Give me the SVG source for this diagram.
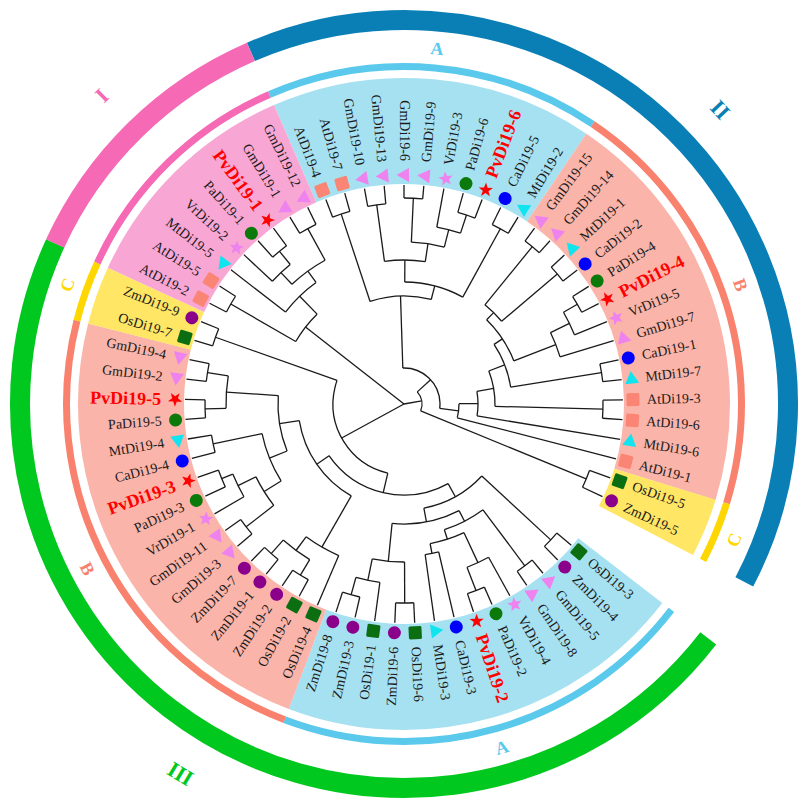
<svg xmlns="http://www.w3.org/2000/svg" xmlns:xlink="http://www.w3.org/1999/xlink" width="809" height="809" viewBox="0 0 809 809">
<style>
.t{font-family:"Liberation Serif","Times New Roman",serif;font-size:14px;fill:#1a1a1a;dominant-baseline:central}
.e{text-anchor:end}
.pv{font-size:18px;font-weight:bold;fill:#ff0000}
.br line,.br circle{fill:none;stroke:#1a1a1a;stroke-width:1.3}
.ring circle{fill:none}
.lab{font-family:"Liberation Serif","Times New Roman",serif;font-weight:bold;text-anchor:middle;dominant-baseline:central}
</style>
<defs>
<circle id="zm" r="6.5" fill="#8b008b"/>
<circle id="pa" r="6.5" fill="#0b7a0b"/>
<circle id="ca" r="6.5" fill="#0000ff"/>
<rect id="os" x="-6.5" y="-6.5" width="13" height="13" rx="1.5" fill="#0b6e11"/>
<rect id="at" x="-6.5" y="-6.5" width="13" height="13" rx="1.5" fill="#fa8574"/>
<path id="gm" d="M0,-7.5 L7,5 L-7,5 Z" fill="#ee82ee"/>
<path id="mt" d="M0,-7.5 L7,5 L-7,5 Z" fill="#10e4ee"/>
<path id="vr" d="M0,-7.5 L1.9,-2.6 L7.13,-2.32 L3.1,1 L4.41,6.07 L0,3.3 L-4.41,6.07 L-3.1,1 L-7.13,-2.32 L-1.9,-2.6 Z" fill="#ee82ee"/>
<path id="pv" d="M0,-7.5 L1.76,-2.43 L7.13,-2.32 L2.85,0.93 L4.41,6.07 L0,3 L-4.41,6.07 L-2.85,0.93 L-7.13,-2.32 L-1.76,-2.43 Z" fill="#ff0000"/>
</defs>
<rect width="809" height="809" fill="#ffffff"/>
<g id="rings" class="ring" transform="translate(404,404)">
<g id="sectors" stroke-width="106">
<circle r="273" pathLength="360" stroke="#a6e1f2" stroke-dasharray="57.5 360" transform="rotate(246.5)"/>
<circle r="273" pathLength="360" stroke="#a6e1f2" stroke-dasharray="73.1 360" transform="rotate(37.6)"/>
<circle r="273" pathLength="360" stroke="#fbb4a9" stroke-dasharray="73.1 360" transform="rotate(304)"/>
<circle r="273" pathLength="360" stroke="#fbb4a9" stroke-dasharray="83.6 360" transform="rotate(110.7)"/>
<circle r="273" pathLength="360" stroke="#ffe665" stroke-dasharray="10.5 360" transform="rotate(377.1)"/>
<circle r="273" pathLength="360" stroke="#ffe665" stroke-dasharray="10.4 360" transform="rotate(194.3)"/>
<circle r="273" pathLength="360" stroke="#f8a7d5" stroke-dasharray="41.8 360" transform="rotate(204.7)"/>
</g>
<g id="subfamily-rings" stroke-width="7">
<circle r="337.5" pathLength="360" stroke="#5bc9ec" stroke-dasharray="57.5 360" transform="rotate(246.5)"/>
<circle r="337.5" pathLength="360" stroke="#5bc9ec" stroke-dasharray="73.1 360" transform="rotate(37.6)"/>
<circle r="337.5" pathLength="360" stroke="#f9826f" stroke-dasharray="73.1 360" transform="rotate(304)"/>
<circle r="337.5" pathLength="360" stroke="#f9826f" stroke-dasharray="83.6 360" transform="rotate(110.7)"/>
<circle r="337.5" pathLength="360" stroke="#ffd700" stroke-dasharray="10.5 360" transform="rotate(377.1)"/>
<circle r="337.5" pathLength="360" stroke="#ffd700" stroke-dasharray="10.4 360" transform="rotate(194.3)"/>
<circle r="337.5" pathLength="360" stroke="#f569b5" stroke-dasharray="41.8 360" transform="rotate(204.7)"/>
</g>
<g id="group-rings" stroke-width="20">
<circle r="384" pathLength="360" stroke="#0a7fb5" stroke-dasharray="141.1 360" transform="rotate(246.5)"/>
<circle r="384" pathLength="360" stroke="#00c81e" stroke-dasharray="167.1 360" transform="rotate(37.6)"/>
<circle r="384" pathLength="360" stroke="#f569b5" stroke-dasharray="41.8 360" transform="rotate(204.7)"/>
</g>
<g id="ring-labels">
<text class="lab" font-size="18" fill="#5bc9ec" transform="rotate(275.3) translate(357,0) rotate(90)">A</text>
<text class="lab" font-size="18" fill="#5bc9ec" transform="rotate(74.1) translate(357,0) rotate(-90)">A</text>
<text class="lab" font-size="18" fill="#f9826f" transform="rotate(340.5) translate(357,0) rotate(90)">B</text>
<text class="lab" font-size="18" fill="#f9826f" transform="rotate(152.5) translate(357,0) rotate(-90)">B</text>
<text class="lab" font-size="18" fill="#ffd700" transform="rotate(22.4) translate(357,0) rotate(-90)">C</text>
<text class="lab" font-size="18" fill="#ffd700" transform="rotate(199.5) translate(357,0) rotate(90)">C</text>
<text class="lab" font-size="22" fill="#f569b5" transform="rotate(225.6) translate(432,0) rotate(90)">I</text>
<text class="lab" font-size="22" fill="#0a7fb5" transform="rotate(317.05) translate(432,0) rotate(90)">II</text>
<text class="lab" font-size="22" fill="#00c81e" transform="rotate(121.15) translate(432,0) rotate(-90)">III</text>
</g>
</g>
<g id="connectors" class="br" transform="translate(404,404)">
<circle r="200" pathLength="360" stroke-dasharray="5.2 360" transform="rotate(40.2)"/>
<circle r="202" pathLength="360" stroke-dasharray="5.3 360" transform="rotate(50.6)"/>
<circle r="200" pathLength="360" stroke-dasharray="5.2 360" transform="rotate(66.3)"/>
<circle r="175" pathLength="360" stroke-dasharray="7.8 360" transform="rotate(61.1)"/>
<circle r="152" pathLength="360" stroke-dasharray="5.2 360" transform="rotate(76.8)"/>
<circle r="142" pathLength="360" stroke-dasharray="14.4 360" transform="rotate(65)"/>
<circle r="132" pathLength="360" stroke-dasharray="18.95 360" transform="rotate(53.25)"/>
<circle r="199" pathLength="360" stroke-dasharray="5.2 360" transform="rotate(87.2)"/>
<circle r="198" pathLength="360" stroke-dasharray="5.2 360" transform="rotate(102.9)"/>
<circle r="180" pathLength="360" stroke-dasharray="7.8 360" transform="rotate(97.7)"/>
<circle r="158" pathLength="360" stroke-dasharray="11.8 360" transform="rotate(89.8)"/>
<circle r="120" pathLength="360" stroke-dasharray="33 360" transform="rotate(62.7)"/>
<circle r="106" pathLength="360" stroke-dasharray="36.4 360" transform="rotate(42.8)"/>
<circle r="200" pathLength="360" stroke-dasharray="5.2 360" transform="rotate(118.6)"/>
<circle r="200" pathLength="360" stroke-dasharray="5.2 360" transform="rotate(129)"/>
<circle r="182" pathLength="360" stroke-dasharray="10.4 360" transform="rotate(121.2)"/>
<circle r="165" pathLength="360" stroke-dasharray="13.1 360" transform="rotate(113.3)"/>
<circle r="200" pathLength="360" stroke-dasharray="5.2 360" transform="rotate(139.5)"/>
<circle r="197" pathLength="360" stroke-dasharray="5.3 360" transform="rotate(155.1)"/>
<circle r="185" pathLength="360" stroke-dasharray="7.85 360" transform="rotate(149.9)"/>
<circle r="165" pathLength="360" stroke-dasharray="11.7 360" transform="rotate(142.1)"/>
<circle r="195" pathLength="360" stroke-dasharray="5.2 360" transform="rotate(165.6)"/>
<circle r="145" pathLength="360" stroke-dasharray="20.25 360" transform="rotate(147.95)"/>
<circle r="199" pathLength="360" stroke-dasharray="5.2 360" transform="rotate(176)"/>
<circle r="199" pathLength="360" stroke-dasharray="5.2 360" transform="rotate(186.5)"/>
<circle r="178" pathLength="360" stroke-dasharray="10.5 360" transform="rotate(178.6)"/>
<circle r="126" pathLength="360" stroke-dasharray="25.75 360" transform="rotate(158.1)"/>
<circle r="106" pathLength="360" stroke-dasharray="51.15 360" transform="rotate(119.85)"/>
<circle r="91" pathLength="360" stroke-dasharray="84.4 360" transform="rotate(61)"/>
<circle r="200" pathLength="360" stroke-dasharray="5.2 360" transform="rotate(196.9)"/>
<circle r="71" pathLength="360" stroke-dasharray="96.3 360" transform="rotate(103.2)"/>
<circle r="200" pathLength="360" stroke-dasharray="5.2 360" transform="rotate(207.4)"/>
<circle r="197" pathLength="360" stroke-dasharray="5.2 360" transform="rotate(228.2)"/>
<circle r="180" pathLength="360" stroke-dasharray="7.8 360" transform="rotate(223)"/>
<circle r="200" pathLength="360" stroke-dasharray="5.3 360" transform="rotate(238.6)"/>
<circle r="164" pathLength="360" stroke-dasharray="14.35 360" transform="rotate(226.9)"/>
<circle r="150" pathLength="360" stroke-dasharray="16.3 360" transform="rotate(217.8)"/>
<circle r="125" pathLength="360" stroke-dasharray="15.95 360" transform="rotate(210)"/>
<circle r="200" pathLength="360" stroke-dasharray="5.2 360" transform="rotate(249.1)"/>
<circle r="201" pathLength="360" stroke-dasharray="5.2 360" transform="rotate(259.6)"/>
<circle r="206" pathLength="360" stroke-dasharray="5.2 360" transform="rotate(270)"/>
<circle r="199" pathLength="360" stroke-dasharray="5.2 360" transform="rotate(285.7)"/>
<circle r="180" pathLength="360" stroke-dasharray="7.8 360" transform="rotate(280.5)"/>
<circle r="162" pathLength="360" stroke-dasharray="11.8 360" transform="rotate(272.6)"/>
<circle r="144" pathLength="360" stroke-dasharray="16.3 360" transform="rotate(262.2)"/>
<circle r="200" pathLength="360" stroke-dasharray="5.2 360" transform="rotate(296.2)"/>
<circle r="122" pathLength="360" stroke-dasharray="28.45 360" transform="rotate(270.35)"/>
<circle r="108" pathLength="360" stroke-dasharray="32.9 360" transform="rotate(251.7)"/>
<circle r="203" pathLength="360" stroke-dasharray="5.2 360" transform="rotate(306.6)"/>
<circle r="201" pathLength="360" stroke-dasharray="5.2 360" transform="rotate(317.1)"/>
<circle r="128" pathLength="360" stroke-dasharray="10.5 360" transform="rotate(309.2)"/>
<circle r="200" pathLength="360" stroke-dasharray="5.2 360" transform="rotate(327.5)"/>
<circle r="184" pathLength="360" stroke-dasharray="7.8 360" transform="rotate(330.1)"/>
<circle r="163" pathLength="360" stroke-dasharray="9.2 360" transform="rotate(334)"/>
<circle r="118" pathLength="360" stroke-dasharray="24.15 360" transform="rotate(314.45)"/>
<circle r="200" pathLength="360" stroke-dasharray="5.2 360" transform="rotate(348.4)"/>
<circle r="108" pathLength="360" stroke-dasharray="24.5 360" transform="rotate(326.5)"/>
<circle r="199" pathLength="360" stroke-dasharray="5.2 360" transform="rotate(358.9)"/>
<circle r="91" pathLength="360" stroke-dasharray="22.75 360" transform="rotate(338.75)"/>
<circle r="74" pathLength="360" stroke-dasharray="19.2 360" transform="rotate(350.1)"/>
<circle r="55" pathLength="360" stroke-dasharray="14.8 360" transform="rotate(359.7)"/>
<circle r="36" pathLength="360" stroke-dasharray="98.95 360" transform="rotate(268.15)"/>
<circle r="197" pathLength="360" stroke-dasharray="5.3 360" transform="rotate(379.7)"/>
<circle r="18" pathLength="360" stroke-dasharray="64.75 360" transform="rotate(317.6)"/>
<line x1="200" x2="219" transform="rotate(40.2)"/>
<line x1="200" x2="219" transform="rotate(45.4)"/>
<line x1="202" x2="219" transform="rotate(50.6)"/>
<line x1="202" x2="219" transform="rotate(55.9)"/>
<line x1="175" x2="219" transform="rotate(61.1)"/>
<line x1="200" x2="219" transform="rotate(66.3)"/>
<line x1="200" x2="219" transform="rotate(71.5)"/>
<line x1="152" x2="219" transform="rotate(76.8)"/>
<line x1="152" x2="219" transform="rotate(82)"/>
<line x1="199" x2="219" transform="rotate(87.2)"/>
<line x1="199" x2="219" transform="rotate(92.4)"/>
<line x1="180" x2="219" transform="rotate(97.7)"/>
<line x1="198" x2="219" transform="rotate(102.9)"/>
<line x1="198" x2="219" transform="rotate(108.1)"/>
<line x1="165" x2="219" transform="rotate(113.3)"/>
<line x1="200" x2="219" transform="rotate(118.6)"/>
<line x1="200" x2="219" transform="rotate(123.8)"/>
<line x1="200" x2="219" transform="rotate(129)"/>
<line x1="200" x2="219" transform="rotate(134.2)"/>
<line x1="200" x2="219" transform="rotate(139.5)"/>
<line x1="200" x2="219" transform="rotate(144.7)"/>
<line x1="185" x2="219" transform="rotate(149.9)"/>
<line x1="197" x2="219" transform="rotate(155.1)"/>
<line x1="197" x2="219" transform="rotate(160.4)"/>
<line x1="195" x2="219" transform="rotate(165.6)"/>
<line x1="195" x2="219" transform="rotate(170.8)"/>
<line x1="199" x2="219" transform="rotate(176)"/>
<line x1="199" x2="219" transform="rotate(181.2)"/>
<line x1="199" x2="219" transform="rotate(186.5)"/>
<line x1="199" x2="219" transform="rotate(191.7)"/>
<line x1="200" x2="219" transform="rotate(196.9)"/>
<line x1="200" x2="219" transform="rotate(202.1)"/>
<line x1="200" x2="219" transform="rotate(207.4)"/>
<line x1="200" x2="219" transform="rotate(212.6)"/>
<line x1="150" x2="219" transform="rotate(217.8)"/>
<line x1="180" x2="219" transform="rotate(223)"/>
<line x1="197" x2="219" transform="rotate(228.2)"/>
<line x1="197" x2="219" transform="rotate(233.4)"/>
<line x1="200" x2="219" transform="rotate(238.6)"/>
<line x1="200" x2="219" transform="rotate(243.9)"/>
<line x1="200" x2="219" transform="rotate(249.1)"/>
<line x1="200" x2="219" transform="rotate(254.3)"/>
<line x1="201" x2="219" transform="rotate(259.6)"/>
<line x1="201" x2="219" transform="rotate(264.8)"/>
<line x1="206" x2="219" transform="rotate(270)"/>
<line x1="206" x2="219" transform="rotate(275.2)"/>
<line x1="180" x2="219" transform="rotate(280.5)"/>
<line x1="199" x2="219" transform="rotate(285.7)"/>
<line x1="199" x2="219" transform="rotate(290.9)"/>
<line x1="200" x2="219" transform="rotate(296.2)"/>
<line x1="200" x2="219" transform="rotate(301.4)"/>
<line x1="203" x2="219" transform="rotate(306.6)"/>
<line x1="203" x2="219" transform="rotate(311.8)"/>
<line x1="201" x2="219" transform="rotate(317.1)"/>
<line x1="201" x2="219" transform="rotate(322.3)"/>
<line x1="200" x2="219" transform="rotate(327.5)"/>
<line x1="200" x2="219" transform="rotate(332.7)"/>
<line x1="184" x2="219" transform="rotate(337.9)"/>
<line x1="163" x2="219" transform="rotate(343.2)"/>
<line x1="200" x2="219" transform="rotate(348.4)"/>
<line x1="200" x2="219" transform="rotate(353.6)"/>
<line x1="199" x2="219" transform="rotate(358.9)"/>
<line x1="199" x2="219" transform="rotate(364.1)"/>
<line x1="74" x2="219" transform="rotate(369.3)"/>
<line x1="55" x2="219" transform="rotate(374.5)"/>
<line x1="197" x2="219" transform="rotate(379.7)"/>
<line x1="197" x2="219" transform="rotate(385)"/>
<line x1="106" x2="200" transform="rotate(42.8)"/>
<line x1="132" x2="202" transform="rotate(53.25)"/>
<line x1="175" x2="200" transform="rotate(68.9)"/>
<line x1="142" x2="175" transform="rotate(65)"/>
<line x1="142" x2="152" transform="rotate(79.4)"/>
<line x1="132" x2="142" transform="rotate(72.2)"/>
<line x1="120" x2="132" transform="rotate(62.7)"/>
<line x1="158" x2="199" transform="rotate(89.8)"/>
<line x1="180" x2="198" transform="rotate(105.5)"/>
<line x1="158" x2="180" transform="rotate(101.6)"/>
<line x1="120" x2="158" transform="rotate(95.7)"/>
<line x1="106" x2="120" transform="rotate(79.2)"/>
<line x1="91" x2="106" transform="rotate(61)"/>
<line x1="182" x2="200" transform="rotate(121.2)"/>
<line x1="182" x2="200" transform="rotate(131.6)"/>
<line x1="165" x2="182" transform="rotate(126.4)"/>
<line x1="106" x2="165" transform="rotate(119.85)"/>
<line x1="165" x2="200" transform="rotate(142.1)"/>
<line x1="185" x2="197" transform="rotate(157.75)"/>
<line x1="165" x2="185" transform="rotate(153.8)"/>
<line x1="145" x2="165" transform="rotate(147.95)"/>
<line x1="145" x2="195" transform="rotate(168.2)"/>
<line x1="126" x2="145" transform="rotate(158.1)"/>
<line x1="178" x2="199" transform="rotate(178.6)"/>
<line x1="178" x2="199" transform="rotate(189.1)"/>
<line x1="126" x2="178" transform="rotate(183.85)"/>
<line x1="106" x2="126" transform="rotate(171)"/>
<line x1="91" x2="106" transform="rotate(145.4)"/>
<line x1="71" x2="91" transform="rotate(103.2)"/>
<line x1="71" x2="200" transform="rotate(199.5)"/>
<line x1="0" x2="71" transform="rotate(151.35)"/>
<line x1="125" x2="200" transform="rotate(210)"/>
<line x1="180" x2="197" transform="rotate(230.8)"/>
<line x1="164" x2="180" transform="rotate(226.9)"/>
<line x1="164" x2="200" transform="rotate(241.25)"/>
<line x1="150" x2="164" transform="rotate(234.1)"/>
<line x1="125" x2="150" transform="rotate(225.95)"/>
<line x1="0" x2="125" transform="rotate(218)"/>
<line x1="108" x2="200" transform="rotate(251.7)"/>
<line x1="144" x2="201" transform="rotate(262.2)"/>
<line x1="162" x2="206" transform="rotate(272.6)"/>
<line x1="180" x2="199" transform="rotate(288.3)"/>
<line x1="162" x2="180" transform="rotate(284.4)"/>
<line x1="144" x2="162" transform="rotate(278.5)"/>
<line x1="122" x2="144" transform="rotate(270.35)"/>
<line x1="122" x2="200" transform="rotate(298.8)"/>
<line x1="108" x2="122" transform="rotate(284.6)"/>
<line x1="36" x2="108" transform="rotate(268.15)"/>
<line x1="128" x2="203" transform="rotate(309.2)"/>
<line x1="128" x2="201" transform="rotate(319.7)"/>
<line x1="118" x2="128" transform="rotate(314.45)"/>
<line x1="184" x2="200" transform="rotate(330.1)"/>
<line x1="163" x2="184" transform="rotate(334)"/>
<line x1="118" x2="163" transform="rotate(338.6)"/>
<line x1="108" x2="118" transform="rotate(326.5)"/>
<line x1="108" x2="200" transform="rotate(351)"/>
<line x1="91" x2="108" transform="rotate(338.75)"/>
<line x1="91" x2="199" transform="rotate(361.5)"/>
<line x1="74" x2="91" transform="rotate(350.1)"/>
<line x1="55" x2="74" transform="rotate(359.7)"/>
<line x1="36" x2="55" transform="rotate(367.1)"/>
<line x1="18" x2="36" transform="rotate(317.6)"/>
<line x1="18" x2="197" transform="rotate(382.35)"/>
<line x1="0" x2="18" transform="rotate(350)"/>
</g>
<g id="leaves" transform="translate(404,404)">
<g id="n-OsDi19-3"><use href="#os" transform="rotate(40.2) translate(229,0)"/><text class="t" transform="rotate(40.2) translate(243,0)">OsDi19-3</text></g>
<g id="n-ZmDi19-4"><use href="#zm" transform="rotate(45.4) translate(229,0)"/><text class="t" transform="rotate(45.4) translate(243,0)">ZmDi19-4</text></g>
<g id="n-GmDi19-5"><use href="#gm" transform="rotate(50.6) translate(229,0)"/><text class="t" transform="rotate(50.6) translate(243,0)">GmDi19-5</text></g>
<g id="n-GmDi19-8"><use href="#gm" transform="rotate(55.9) translate(229,0)"/><text class="t" transform="rotate(55.9) translate(243,0)">GmDi19-8</text></g>
<g id="n-VrDi19-4"><use href="#vr" transform="rotate(61.1) translate(229,0)"/><text class="t" transform="rotate(61.1) translate(243,0)">VrDi19-4</text></g>
<g id="n-PaDi19-2"><use href="#pa" transform="rotate(66.3) translate(229,0)"/><text class="t" transform="rotate(66.3) translate(243,0)">PaDi19-2</text></g>
<g id="n-PvDi19-2"><use href="#pv" transform="rotate(71.5) translate(229,0)"/><text class="t pv" transform="rotate(71.5) translate(243,0)">PvDi19-2</text></g>
<g id="n-CaDi19-3"><use href="#ca" transform="rotate(76.8) translate(229,0)"/><text class="t" transform="rotate(76.8) translate(243,0)">CaDi19-3</text></g>
<g id="n-MtDi19-3"><use href="#mt" transform="rotate(82) translate(229,0)"/><text class="t" transform="rotate(82) translate(243,0)">MtDi19-3</text></g>
<g id="n-OsDi19-6"><use href="#os" transform="rotate(87.2) translate(229,0)"/><text class="t" transform="rotate(87.2) translate(243,0)">OsDi19-6</text></g>
<g id="n-ZmDi19-6"><use href="#zm" transform="rotate(92.4) translate(229,0)"/><text class="t e" transform="rotate(-87.6) translate(-243,0)">ZmDi19-6</text></g>
<g id="n-OsDi19-1"><use href="#os" transform="rotate(97.7) translate(229,0)"/><text class="t e" transform="rotate(-82.3) translate(-243,0)">OsDi19-1</text></g>
<g id="n-ZmDi19-3"><use href="#zm" transform="rotate(102.9) translate(229,0)"/><text class="t e" transform="rotate(-77.1) translate(-243,0)">ZmDi19-3</text></g>
<g id="n-ZmDi19-8"><use href="#zm" transform="rotate(108.1) translate(229,0)"/><text class="t e" transform="rotate(-71.9) translate(-243,0)">ZmDi19-8</text></g>
<g id="n-OsDi19-4"><use href="#os" transform="rotate(113.3) translate(229,0)"/><text class="t e" transform="rotate(-66.7) translate(-243,0)">OsDi19-4</text></g>
<g id="n-OsDi19-2"><use href="#os" transform="rotate(118.6) translate(229,0)"/><text class="t e" transform="rotate(-61.4) translate(-243,0)">OsDi19-2</text></g>
<g id="n-ZmDi19-2"><use href="#zm" transform="rotate(123.8) translate(229,0)"/><text class="t e" transform="rotate(-56.2) translate(-243,0)">ZmDi19-2</text></g>
<g id="n-ZmDi19-1"><use href="#zm" transform="rotate(129) translate(229,0)"/><text class="t e" transform="rotate(-51) translate(-243,0)">ZmDi19-1</text></g>
<g id="n-ZmDi19-7"><use href="#zm" transform="rotate(134.2) translate(229,0)"/><text class="t e" transform="rotate(-45.8) translate(-243,0)">ZmDi19-7</text></g>
<g id="n-GmDi19-3"><use href="#gm" transform="rotate(139.5) translate(229,0)"/><text class="t e" transform="rotate(-40.5) translate(-243,0)">GmDi19-3</text></g>
<g id="n-GmDi19-11"><use href="#gm" transform="rotate(144.7) translate(229,0)"/><text class="t e" transform="rotate(-35.3) translate(-243,0)">GmDi19-11</text></g>
<g id="n-VrDi19-1"><use href="#vr" transform="rotate(149.9) translate(229,0)"/><text class="t e" transform="rotate(-30.1) translate(-243,0)">VrDi19-1</text></g>
<g id="n-PaDi19-3"><use href="#pa" transform="rotate(155.1) translate(229,0)"/><text class="t e" transform="rotate(-24.9) translate(-243,0)">PaDi19-3</text></g>
<g id="n-PvDi19-3"><use href="#pv" transform="rotate(160.4) translate(229,0)"/><text class="t e pv" transform="rotate(-19.6) translate(-243,0)">PvDi19-3</text></g>
<g id="n-CaDi19-4"><use href="#ca" transform="rotate(165.6) translate(229,0)"/><text class="t e" transform="rotate(-14.4) translate(-243,0)">CaDi19-4</text></g>
<g id="n-MtDi19-4"><use href="#mt" transform="rotate(170.8) translate(229,0)"/><text class="t e" transform="rotate(-9.2) translate(-243,0)">MtDi19-4</text></g>
<g id="n-PaDi19-5"><use href="#pa" transform="rotate(176) translate(229,0)"/><text class="t e" transform="rotate(-4) translate(-243,0)">PaDi19-5</text></g>
<g id="n-PvDi19-5"><use href="#pv" transform="rotate(181.2) translate(229,0)"/><text class="t e pv" transform="rotate(1.2) translate(-243,0)">PvDi19-5</text></g>
<g id="n-GmDi19-2"><use href="#gm" transform="rotate(186.5) translate(229,0)"/><text class="t e" transform="rotate(6.5) translate(-243,0)">GmDi19-2</text></g>
<g id="n-GmDi19-4"><use href="#gm" transform="rotate(191.7) translate(229,0)"/><text class="t e" transform="rotate(11.7) translate(-243,0)">GmDi19-4</text></g>
<g id="n-OsDi19-7"><use href="#os" transform="rotate(196.9) translate(229,0)"/><text class="t e" transform="rotate(16.9) translate(-243,0)">OsDi19-7</text></g>
<g id="n-ZmDi19-9"><use href="#zm" transform="rotate(202.1) translate(229,0)"/><text class="t e" transform="rotate(22.1) translate(-243,0)">ZmDi19-9</text></g>
<g id="n-AtDi19-2"><use href="#at" transform="rotate(207.4) translate(229,0)"/><text class="t e" transform="rotate(27.4) translate(-243,0)">AtDi19-2</text></g>
<g id="n-AtDi19-5"><use href="#at" transform="rotate(212.6) translate(229,0)"/><text class="t e" transform="rotate(32.6) translate(-243,0)">AtDi19-5</text></g>
<g id="n-MtDi19-5"><use href="#mt" transform="rotate(217.8) translate(229,0)"/><text class="t e" transform="rotate(37.8) translate(-243,0)">MtDi19-5</text></g>
<g id="n-VrDi19-2"><use href="#vr" transform="rotate(223) translate(229,0)"/><text class="t e" transform="rotate(43) translate(-243,0)">VrDi19-2</text></g>
<g id="n-PaDi19-1"><use href="#pa" transform="rotate(228.2) translate(229,0)"/><text class="t e" transform="rotate(48.2) translate(-243,0)">PaDi19-1</text></g>
<g id="n-PvDi19-1"><use href="#pv" transform="rotate(233.4) translate(229,0)"/><text class="t e pv" transform="rotate(53.4) translate(-243,0)">PvDi19-1</text></g>
<g id="n-GmDi19-1"><use href="#gm" transform="rotate(238.6) translate(229,0)"/><text class="t e" transform="rotate(58.6) translate(-243,0)">GmDi19-1</text></g>
<g id="n-GmDi19-12"><use href="#gm" transform="rotate(243.9) translate(229,0)"/><text class="t e" transform="rotate(63.9) translate(-243,0)">GmDi19-12</text></g>
<g id="n-AtDi19-4"><use href="#at" transform="rotate(249.1) translate(229,0)"/><text class="t e" transform="rotate(69.1) translate(-243,0)">AtDi19-4</text></g>
<g id="n-AtDi19-7"><use href="#at" transform="rotate(254.3) translate(229,0)"/><text class="t e" transform="rotate(74.3) translate(-243,0)">AtDi19-7</text></g>
<g id="n-GmDi19-10"><use href="#gm" transform="rotate(259.6) translate(229,0)"/><text class="t e" transform="rotate(79.6) translate(-243,0)">GmDi19-10</text></g>
<g id="n-GmDi19-13"><use href="#gm" transform="rotate(264.8) translate(229,0)"/><text class="t e" transform="rotate(84.8) translate(-243,0)">GmDi19-13</text></g>
<g id="n-GmDi19-6"><use href="#gm" transform="rotate(270) translate(229,0)"/><text class="t e" transform="rotate(90) translate(-243,0)">GmDi19-6</text></g>
<g id="n-GmDi19-9"><use href="#gm" transform="rotate(275.2) translate(229,0)"/><text class="t" transform="rotate(275.2) translate(243,0)">GmDi19-9</text></g>
<g id="n-VrDi19-3"><use href="#vr" transform="rotate(280.5) translate(229,0)"/><text class="t" transform="rotate(280.5) translate(243,0)">VrDi19-3</text></g>
<g id="n-PaDi19-6"><use href="#pa" transform="rotate(285.7) translate(229,0)"/><text class="t" transform="rotate(285.7) translate(243,0)">PaDi19-6</text></g>
<g id="n-PvDi19-6"><use href="#pv" transform="rotate(290.9) translate(229,0)"/><text class="t pv" transform="rotate(290.9) translate(243,0)">PvDi19-6</text></g>
<g id="n-CaDi19-5"><use href="#ca" transform="rotate(296.2) translate(229,0)"/><text class="t" transform="rotate(296.2) translate(243,0)">CaDi19-5</text></g>
<g id="n-MtDi19-2"><use href="#mt" transform="rotate(301.4) translate(229,0)"/><text class="t" transform="rotate(301.4) translate(243,0)">MtDi19-2</text></g>
<g id="n-GmDi19-15"><use href="#gm" transform="rotate(306.6) translate(229,0)"/><text class="t" transform="rotate(306.6) translate(243,0)">GmDi19-15</text></g>
<g id="n-GmDi19-14"><use href="#gm" transform="rotate(311.8) translate(229,0)"/><text class="t" transform="rotate(311.8) translate(243,0)">GmDi19-14</text></g>
<g id="n-MtDi19-1"><use href="#mt" transform="rotate(317.1) translate(229,0)"/><text class="t" transform="rotate(317.1) translate(243,0)">MtDi19-1</text></g>
<g id="n-CaDi19-2"><use href="#ca" transform="rotate(322.3) translate(229,0)"/><text class="t" transform="rotate(322.3) translate(243,0)">CaDi19-2</text></g>
<g id="n-PaDi19-4"><use href="#pa" transform="rotate(327.5) translate(229,0)"/><text class="t" transform="rotate(327.5) translate(243,0)">PaDi19-4</text></g>
<g id="n-PvDi19-4"><use href="#pv" transform="rotate(332.7) translate(229,0)"/><text class="t pv" transform="rotate(332.7) translate(243,0)">PvDi19-4</text></g>
<g id="n-VrDi19-5"><use href="#vr" transform="rotate(337.9) translate(229,0)"/><text class="t" transform="rotate(337.9) translate(243,0)">VrDi19-5</text></g>
<g id="n-GmDi19-7"><use href="#gm" transform="rotate(343.2) translate(229,0)"/><text class="t" transform="rotate(343.2) translate(243,0)">GmDi19-7</text></g>
<g id="n-CaDi19-1"><use href="#ca" transform="rotate(348.4) translate(229,0)"/><text class="t" transform="rotate(348.4) translate(243,0)">CaDi19-1</text></g>
<g id="n-MtDi19-7"><use href="#mt" transform="rotate(353.6) translate(229,0)"/><text class="t" transform="rotate(353.6) translate(243,0)">MtDi19-7</text></g>
<g id="n-AtDi19-3"><use href="#at" transform="rotate(358.9) translate(229,0)"/><text class="t" transform="rotate(358.9) translate(243,0)">AtDi19-3</text></g>
<g id="n-AtDi19-6"><use href="#at" transform="rotate(364.1) translate(229,0)"/><text class="t" transform="rotate(364.1) translate(243,0)">AtDi19-6</text></g>
<g id="n-MtDi19-6"><use href="#mt" transform="rotate(369.3) translate(229,0)"/><text class="t" transform="rotate(369.3) translate(243,0)">MtDi19-6</text></g>
<g id="n-AtDi19-1"><use href="#at" transform="rotate(374.5) translate(229,0)"/><text class="t" transform="rotate(374.5) translate(243,0)">AtDi19-1</text></g>
<g id="n-OsDi19-5"><use href="#os" transform="rotate(379.7) translate(229,0)"/><text class="t" transform="rotate(379.7) translate(243,0)">OsDi19-5</text></g>
<g id="n-ZmDi19-5"><use href="#zm" transform="rotate(385) translate(229,0)"/><text class="t" transform="rotate(385) translate(243,0)">ZmDi19-5</text></g>
</g>
</svg>
